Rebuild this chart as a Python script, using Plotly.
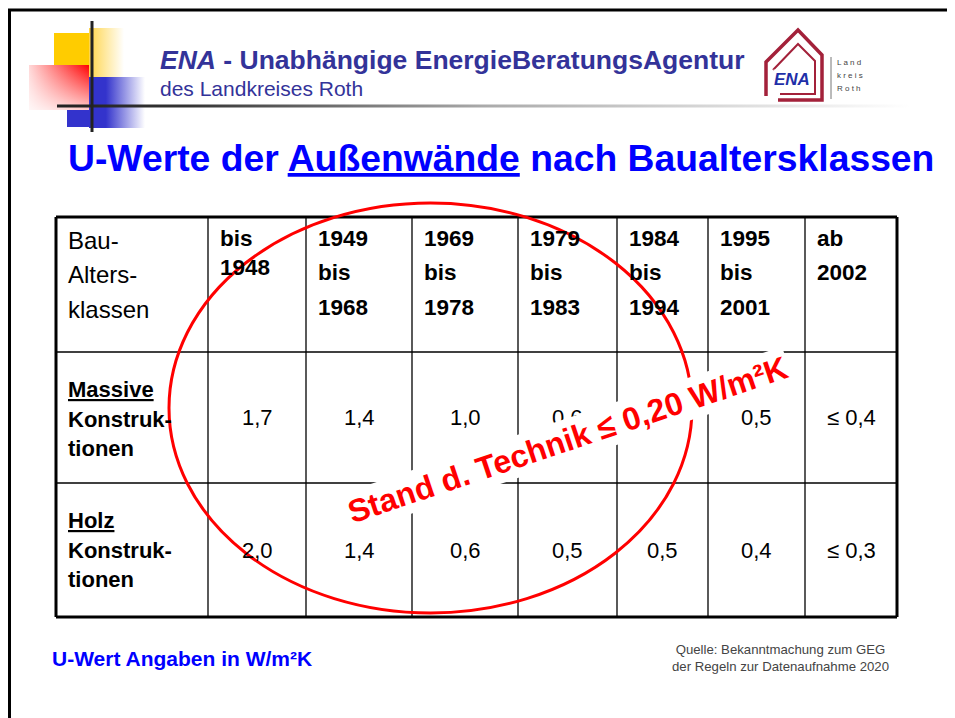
import plotly.graph_objects as go

W, H = 955, 718
BODY = 8  # default page margin of the html body
FONT = "Arial, 'Liberation Sans', Helvetica, sans-serif"

# ---------------- data ----------------
slide_org = "ENA"
slide_org_long = " - Unabhängige EnergieBeratungsAgentur"
slide_org_sub = "des Landkreises Roth"
title_parts = ["U-Werte der ", "Außenwände", " nach Baualtersklassen"]
header_first = ["Bau-", "Alters-", "klassen"]
age_classes = [
    ["bis", "1948"],
    ["1949", "bis", "1968"],
    ["1969", "bis", "1978"],
    ["1979", "bis", "1983"],
    ["1984", "bis", "1994"],
    ["1995", "bis", "2001"],
    ["ab", "2002"],
]
construction_types = ["Massive", "Holz"]
construction_suffix = ["Konstruk-", "tionen"]
u_massive = ["1,7", "1,4", "1,0", "0,6", "0,6", "0,5", "≤ 0,4"]
u_holz = ["2,0", "1,4", "0,6", "0,5", "0,5", "0,4", "≤ 0,3"]
u_values = [u_massive, u_holz]
stamp_text = "Stand d. Technik ≤ 0,20 W/m²K"
unit_note = "U-Wert Angaben in W/m²K"
source_note = ["Quelle: Bekanntmachung zum GEG", "der Regeln zur Datenaufnahme 2020"]
logo_words = ["L a n d", "k r e i s", "R o t h"]

# ---------------- layout constants ----------------
col_edges = [56, 208, 306, 412, 518, 617, 708, 805, 897]
row_edges = [217, 352, 483, 617]

fig = go.Figure()


def grad_rect(x0, x1, y0, y1, cs, orient="horizontal", start=None, stop=None):
    fg = dict(type=orient, colorscale=cs)
    if start is not None:
        fg["start"] = start
        fg["stop"] = stop
    fig.add_trace(go.Scatter(
        x=[x0, x1, x1, x0, x0], y=[y0, y0, y1, y1, y0], mode="lines",
        line=dict(width=0), fill="toself", fillgradient=fg,
        hoverinfo="skip", showlegend=False))


def solid_rect(x0, x1, y0, y1, color):
    fig.add_trace(go.Scatter(
        x=[x0, x1, x1, x0, x0], y=[y0, y0, y1, y1, y0], mode="lines",
        line=dict(width=0), fill="toself", fillcolor=color,
        hoverinfo="skip", showlegend=False))


# decorative squares
solid_rect(54, 89, 33, 77, "#FFCC00")
grad_rect(89, 124, 28, 77, [[0, "#FFD54A"], [1, "#FFFFFF"]], "horizontal", 89, 124)
grad_rect(29, 89, 65, 110, [[0, "#FFD8D8"], [1, "#FF0000"]], "horizontal", 29, 89)
grad_rect(29, 89, 65, 110, [[0, "rgba(255,255,255,0)"], [1, "rgba(255,255,255,0.8)"]], "vertical", 65, 110)
solid_rect(67, 89, 110, 127, "#3333CC")
grad_rect(89, 145, 77, 128, [[0, "#3333CC"], [0.3, "#3333CC"], [1, "#FFFFFF"]], "horizontal", 89, 145)
# horizontal rule with fading gradient
grad_rect(57, 910, 104.5, 107.5,
          [[0, "#222222"], [0.15, "#333333"], [0.5, "#AAAAAA"], [0.8, "#DDDDDD"], [1, "#FFFFFF"]],
          "horizontal", 57, 910)

shapes = []
# slide frame
shapes.append(dict(type="line", x0=8, x1=W, y0=10, y1=10, line=dict(color="black", width=3)))
shapes.append(dict(type="line", x0=9.5, x1=9.5, y0=10, y1=H, line=dict(color="black", width=3)))
# vertical decorative line
shapes.append(dict(type="line", x0=92, x1=92, y0=21, y1=132, line=dict(color="#222222", width=3)))

# logo house
shapes.append(dict(type="path", path="M 766 96 L 766 62 L 798 30 L 822 55 L 822 100 L 778 100",
                   line=dict(color="#A3213A", width=3.5)))
shapes.append(dict(type="path", path="M 773 70 L 798 44 L 815 61 L 815 94 L 780 94",
                   line=dict(color="#A3213A", width=2)))
shapes.append(dict(type="line", x0=831, x1=831, y0=57, y1=99, line=dict(color="#777777", width=1)))

# table grid
for i, x in enumerate(col_edges):
    outer = i in (0, len(col_edges) - 1)
    shapes.append(dict(type="line", x0=x, x1=x, y0=row_edges[0], y1=row_edges[-1],
                       line=dict(color="black", width=3 if outer else 1.3), layer="above"))
for j, y in enumerate(row_edges):
    outer = j in (0, len(row_edges) - 1)
    shapes.append(dict(type="line", x0=col_edges[0], x1=col_edges[-1], y0=y, y1=y,
                       line=dict(color="black", width=3 if outer else 1.3), layer="above"))

# red ellipse
shapes.append(dict(type="circle", x0=169, x1=692, y0=203, y1=613,
                   line=dict(color="#FF0000", width=3), layer="above"))

ann = []


def txt(x, y, text, size, color="black", bold=False, xanchor="left", **kw):
    t = f"<b>{text}</b>" if bold else text
    d = dict(x=x, y=y, xref="x", yref="y", text=t, showarrow=False,
             xanchor=xanchor, yanchor="middle",
             font=dict(family=FONT, size=size, color=color))
    d.update(kw)
    ann.append(d)


# header
txt(158, 60, f"<i>{slide_org}</i>{slide_org_long}", 26.5, color="#333399", bold=True)
txt(158, 88, slide_org_sub, 21, color="#333399")
txt(792, 79, f"<i>{slide_org}</i>", 17, color="#1F2FA8", bold=True, xanchor="center",
    bgcolor="rgba(255,255,255,0.85)", borderpad=0)
for k, w in enumerate(logo_words):
    txt(835, 62 + k * 13, w, 8, color="#444444")

# title
txt(66, 158, f"{title_parts[0]}<u>{title_parts[1]}</u>{title_parts[2]}", 37.3,
    color="#0000FF", bold=True)

# table header
for k, line in enumerate(header_first):
    txt(col_edges[0] + 10, 240 + k * 34.5, line, 24)
for c, lines in enumerate(age_classes):
    step = 29 if c == 0 else 34.5
    for k, line in enumerate(lines):
        txt(col_edges[c + 1] + 10, 238 + k * step, line, 22.5, bold=True)

# row labels and values
label_offsets = [37, 67, 96]
for r, name in enumerate(construction_types):
    top = row_edges[r + 1]
    lines = [f"<u>{name}</u>"] + construction_suffix
    for k, line in enumerate(lines):
        txt(col_edges[0] + 10, top + label_offsets[k], line, 22, bold=True)
    ymid = (row_edges[r + 1] + row_edges[r + 2]) / 2
    for c, v in enumerate(u_values[r]):
        xc = (col_edges[c + 1] + col_edges[c + 2]) / 2
        txt(xc, ymid, v, 22, xanchor="center")

# footnotes
txt(50, 658, unit_note, 21, color="#0000FF", bold=True)
txt(670, 658, "<br>".join(source_note), 13.2, color="#444444")

# stamp over everything
ann.append(dict(x=567, y=440, xref="x", yref="y", text=f"<b>{stamp_text}</b>",
                showarrow=False, xanchor="center", yanchor="middle", textangle=-18.5,
                bgcolor="white", borderpad=2,
                font=dict(family=FONT, size=32, color="#FF0000")))

# the html body has an 8px margin, so the figure fills the remaining window area
fig.update_layout(
    width=W - BODY, height=H - BODY, margin=dict(l=0, r=0, t=0, b=0),
    paper_bgcolor="white", plot_bgcolor="white",
    xaxis=dict(range=[BODY, W], visible=False, fixedrange=True),
    yaxis=dict(range=[H, BODY], visible=False, fixedrange=True),
    shapes=shapes, annotations=ann, showlegend=False,
)

fig.write_html("out.html", config={"displayModeBar": False})
